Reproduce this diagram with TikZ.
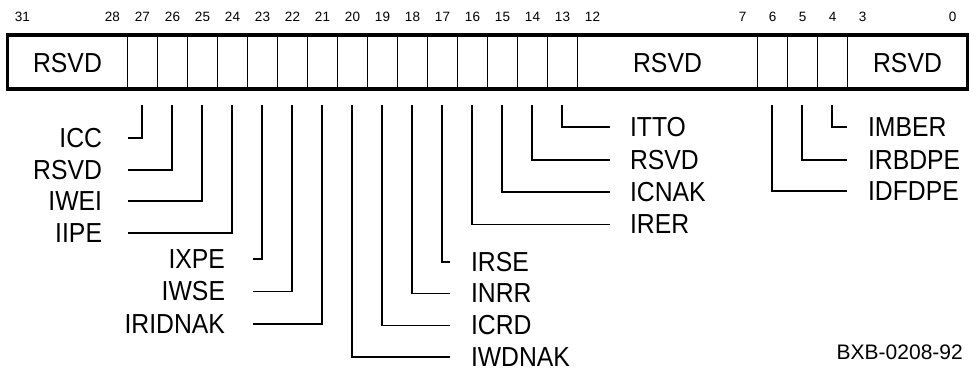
\documentclass[tikz,border=0pt]{standalone}
\usepackage{fontspec}
\setmainfont{Liberation Sans}
\newfontfamily\lblfont[FakeStretch=0.9]{Liberation Sans}
\begin{document}
\begin{tikzpicture}[x=1pt,y=-1pt,
  lbl/.style={font=\lblfont\fontsize{27.5}{32}\selectfont, inner ysep=0pt, outer sep=0pt},
  rlbl/.style={lbl, anchor=west, inner xsep=#1},
  llbl/.style={lbl, anchor=east, inner xsep=#1},
  bitno/.style={font=\fontsize{13.5}{16}\selectfont, inner sep=0pt},
  fieldtxt/.style={font=\lblfont\fontsize{27.5}{32}\selectfont, inner sep=0pt},
  lead/.style={line width=1.2pt},
  divider/.style={line width=1.2pt},
  regbox/.style={line width=3.5pt}]
\useasboundingbox (0,0) rectangle (969,371);

% bit numbers
\foreach \b in {31,28,27,26,25,24,23,22,21,20,19,18,17,16,15,14,13,12,7,6,5,4,3,0}
  \node[bitno] (n\b) at ({22.5+(31-\b)*30},16.5) {\b};

% register
\foreach \k in {4,5,...,19,25,26,27,28}
  \draw[divider] ({7.5+\k*30},35) -- ({7.5+\k*30},89);
\draw[regbox] (7.5,35) rectangle (967.5,89);
\node[fieldtxt] (f31) at (67.5,63.5) {RSVD};
\node[fieldtxt] (f12) at (667.5,63.5) {RSVD};
\node[fieldtxt] (f3) at (907.5,63.5) {RSVD};

% lead tops
\foreach \b in {27,26,25,24,23,22,21,20,19,18,17,16,15,14,13,6,5,4}
  \coordinate (c\b) at ({22+(31-\b)*30},105);

% left group A
\node[llbl=26pt] (icc)  at (128,138)   {ICC};
\node[llbl=26pt] (rsvda) at (128,170)  {RSVD};
\node[llbl=26pt] (iwei) at (128,201)   {IWEI};
\node[llbl=26pt] (iipe) at (128,233)   {IIPE};
\draw[lead] (c27) |- (icc.east);
\draw[lead] (c26) |- (rsvda.east);
\draw[lead] (c25) |- (iwei.east);
\draw[lead] (c24) |- (iipe.east);

% left group B
\node[llbl=28pt] (ixpe) at (253,259)    {IXPE};
\node[llbl=28pt] (iwse) at (253,291.5)  {IWSE};
\node[llbl=28pt] (iridnak) at (253,324) {IRIDNAK};
\draw[lead] (c23) |- (ixpe.east);
\draw[lead] (c22) |- (iwse.east);
\draw[lead] (c21) |- (iridnak.east);

% right group C
\node[rlbl=21pt] (irse) at (450,262)     {IRSE};
\node[rlbl=21pt] (inrr) at (450,293.5)   {INRR};
\node[rlbl=21pt] (icrd) at (450,325.5)   {ICRD};
\node[rlbl=21pt] (iwdnak) at (450,357)   {IWDNAK};
\draw[lead] (c17) |- (irse.west);
\draw[lead] (c18) |- (inrr.west);
\draw[lead] (c19) |- (icrd.west);
\draw[lead] (c20) |- (iwdnak.west);

% right group D
\node[rlbl=20pt] (itto) at (610,127)    {ITTO};
\node[rlbl=20pt] (rsvdd) at (610,160)   {RSVD};
\node[rlbl=20pt] (icnak) at (610,192)   {ICNAK};
\node[rlbl=20pt] (irer) at (610,224.5)  {IRER};
\draw[lead] (c13) |- (itto.west);
\draw[lead] (c14) |- (rsvdd.west);
\draw[lead] (c15) |- (icnak.west);
\draw[lead] (c16) |- (irer.west);

% right group E
\node[rlbl=21pt] (imber) at (847,127)  {IMBER};
\node[rlbl=21pt] (irbdpe) at (847,160) {IRBDPE};
\node[rlbl=21pt] (idfdpe) at (847,191) {IDFDPE};
\draw[lead] (c4) |- (imber.west);
\draw[lead] (c5) |- (irbdpe.west);
\draw[lead] (c6) |- (idfdpe.west);

% figure id
\node[font=\fontsize{21}{25}\selectfont, inner sep=0pt, anchor=east] (figid) at (963,352) {BXB-0208-92};
\end{tikzpicture}
\end{document}
